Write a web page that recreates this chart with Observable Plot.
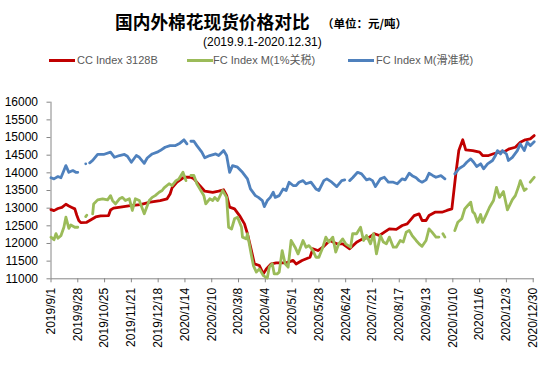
<!DOCTYPE html>
<html><head><meta charset="utf-8">
<script src="https://cdn.jsdelivr.net/npm/d3@7"></script>
<script src="https://cdn.jsdelivr.net/npm/@observablehq/plot@0.6"></script>
<style>
html,body{margin:0;padding:0;background:#fff;}
#wrap{position:relative;width:554px;height:365px;overflow:hidden;font-family:"Liberation Sans","Noto Sans CJK SC",sans-serif;}
.t{position:absolute;white-space:nowrap;}
.lg{position:absolute;height:3px;width:26px;}
#chart{position:absolute;left:0;top:0;}
</style></head><body>
<div id="wrap">
<div id="chart"></div>
<div class="t" style="left:115px;top:12px;font-family:'Noto Sans CJK SC';font-weight:bold;font-size:17.7px;line-height:18px;color:#000">国内外棉花现货价格对比</div>
<div class="t" style="left:322px;top:17px;font-family:'Noto Sans CJK SC';font-weight:bold;font-size:11.5px;line-height:12px;color:#000">（单位：元/吨）</div>
<div class="t" style="left:203px;top:36px;font-size:12px;line-height:12px;color:#000">(2019.9.1-2020.12.31)</div>
<div class="lg" style="left:49px;top:58.5px;background:#C00000"></div>
<div class="t" style="left:77px;top:54px;font-size:11px;line-height:12px;color:#595959">CC Index 3128B</div>
<div class="lg" style="left:187px;top:58.5px;background:#9BBB59"></div>
<div class="t" style="left:213px;top:54px;font-size:11px;line-height:12px;color:#595959">FC Index M(1%关税)</div>
<div class="lg" style="left:348px;top:58.5px;background:#4F81BD"></div>
<div class="t" style="left:376px;top:54px;font-size:11px;line-height:12px;color:#595959">FC Index M(滑准税)</div>
</div>
<script>
const seriesNames = ["CC Index 3128B", "FC Index M(1%关税)", "FC Index M(滑准税)"];

const tickLabels = ["2019/9/1","2019/9/28","2019/10/25","2019/11/21","2019/12/18","2020/1/14","2020/2/10","2020/3/8","2020/4/4","2020/5/1","2020/5/28","2020/6/24","2020/7/21","2020/8/17","2020/9/13","2020/10/10","2020/11/6","2020/12/3","2020/12/30"];
const yTicks = [11000,11500,12000,12500,13000,13500,14000,14500,15000,15500,16000];

const ccDates = ["2019-09-01","2019-09-04","2019-09-08","2019-09-12","2019-09-16","2019-09-19","2019-09-22","2019-09-25","2019-09-27","2019-09-29","2019-10-01","2019-10-07","2019-10-13","2019-10-16","2019-10-21","2019-10-29","2019-10-31","2019-11-03","2019-11-10","2019-11-20","2019-11-30","2019-12-10","2019-12-20","2019-12-27","2019-12-30","2020-01-01","2020-01-06","2020-01-13","2020-01-20","2020-01-23","2020-01-29","2020-02-03","2020-02-11","2020-02-17","2020-02-22","2020-02-25","2020-02-28","2020-03-04","2020-03-09","2020-03-14","2020-03-17","2020-03-21","2020-03-24","2020-03-29","2020-04-02","2020-04-05","2020-04-10","2020-04-15","2020-04-25","2020-05-02","2020-05-05","2020-05-11","2020-05-19","2020-05-22","2020-05-27","2020-06-01","2020-06-08","2020-06-15","2020-06-21","2020-06-28","2020-07-05","2020-07-11","2020-07-18","2020-07-23","2020-07-28","2020-08-02","2020-08-07","2020-08-14","2020-08-20","2020-08-25","2020-09-01","2020-09-06","2020-09-09","2020-09-13","2020-09-16","2020-09-22","2020-09-29","2020-10-04","2020-10-09","2020-10-13","2020-10-16","2020-10-20","2020-10-23","2020-10-30","2020-11-06","2020-11-09","2020-11-15","2020-11-20","2020-11-26","2020-12-01","2020-12-06","2020-12-12","2020-12-17","2020-12-22","2020-12-27","2020-12-31"];
const ccValues = [12960,12930,12990,13020,13110,13060,13020,12980,12800,12650,12590,12600,12700,12750,12780,12790,12950,13000,13030,13070,13100,13170,13215,13265,13400,13575,13735,13875,13875,13830,13640,13480,13450,13480,13520,13360,13030,12980,12790,12555,12275,11800,11425,11375,11140,11280,11425,11450,11450,11520,11420,11520,11610,11850,11800,11895,12085,11990,11990,11850,12035,12130,12180,12275,12225,12320,12415,12400,12510,12555,12790,12840,12650,12650,12790,12885,12885,12935,12980,13970,14630,14935,14650,14630,14585,14490,14490,14540,14585,14600,14680,14725,14865,14935,14960,15055];

const fc1Dates = ["2019-09-01","2019-09-04","2019-09-06","2019-09-08","2019-09-11","2019-09-14","2019-09-16","2019-09-19","2019-09-21","2019-09-25","2019-09-28","2019-10-02","2019-10-06","2019-10-07","2019-10-09","2019-10-13","2019-10-14","2019-10-18","2019-10-23","2019-10-28","2019-10-31","2019-11-02","2019-11-05","2019-11-09","2019-11-12","2019-11-15","2019-11-19","2019-11-22","2019-11-25","2019-11-29","2019-12-04","2019-12-09","2019-12-12","2019-12-15","2019-12-19","2019-12-22","2019-12-24","2019-12-29","2020-01-01","2020-01-05","2020-01-08","2020-01-12","2020-01-15","2020-01-17","2020-01-20","2020-01-23","2020-01-26","2020-01-29","2020-02-02","2020-02-04","2020-02-08","2020-02-11","2020-02-13","2020-02-16","2020-02-21","2020-02-25","2020-02-27","2020-03-01","2020-03-04","2020-03-07","2020-03-11","2020-03-12","2020-03-16","2020-03-17","2020-03-21","2020-03-23","2020-03-26","2020-03-29","2020-04-02","2020-04-06","2020-04-08","2020-04-11","2020-04-13","2020-04-16","2020-04-18","2020-04-21","2020-04-24","2020-04-27","2020-04-30","2020-05-04","2020-05-07","2020-05-12","2020-05-15","2020-05-18","2020-05-22","2020-05-25","2020-05-28","2020-06-01","2020-06-04","2020-06-07","2020-06-11","2020-06-14","2020-06-17","2020-06-21","2020-06-24","2020-06-29","2020-07-01","2020-07-05","2020-07-09","2020-07-12","2020-07-15","2020-07-19","2020-07-22","2020-07-25","2020-07-29","2020-08-01","2020-08-04","2020-08-07","2020-08-11","2020-08-14","2020-08-18","2020-08-21","2020-08-24","2020-08-27","2020-08-30","2020-09-03","2020-09-06","2020-09-09","2020-09-13","2020-09-16","2020-09-19","2020-09-23","2020-09-26","2020-09-28","2020-09-30","2020-10-02","2020-10-07","2020-10-12","2020-10-15","2020-10-19","2020-10-22","2020-10-25","2020-10-28","2020-10-30","2020-11-01","2020-11-04","2020-11-07","2020-11-09","2020-11-13","2020-11-16","2020-11-20","2020-11-23","2020-11-26","2020-11-30","2020-12-04","2020-12-09","2020-12-12","2020-12-15","2020-12-17","2020-12-21","2020-12-23","2020-12-25","2020-12-27","2020-12-31"];
const fc1Values = [12180,12105,12280,12150,12220,12460,12745,12430,12525,12460,12460,null,12760,12800,null,12840,13120,13235,13265,13235,13355,13215,13120,13265,13305,13215,13265,12935,13265,13215,12840,13215,13305,13355,13450,13500,13575,13690,13640,13780,13830,14015,13780,null,13925,13925,13690,13545,13360,13120,13265,13215,13305,13215,13500,13305,12460,12410,12700,12745,12460,12180,12130,12275,11660,11375,11190,11280,11090,11020,11330,11425,11140,11140,11190,11800,11425,11330,12085,11895,11705,12085,11895,11940,11800,11610,11610,11895,12180,12040,12180,11755,11990,12130,11990,11895,12275,12275,12460,12085,12225,11990,12275,11705,12225,12040,11990,12180,11895,11895,12085,12040,12320,12370,12225,12085,11990,11920,12085,12415,12320,12180,12180,null,12275,12180,null,12365,12600,12700,12980,13075,13170,12900,12840,12600,12820,12600,12840,13025,13215,13590,13305,13470,12950,13240,13355,13590,13780,13500,13545,null,13735,13875];

const fcsDates = ["2019-09-01","2019-09-04","2019-09-08","2019-09-11","2019-09-14","2019-09-16","2019-09-19","2019-09-23","2019-09-26","2019-09-28","2019-10-01","2019-10-06","2019-10-07","2019-10-10","2019-10-13","2019-10-18","2019-10-24","2019-10-31","2019-11-04","2019-11-09","2019-11-14","2019-11-17","2019-11-21","2019-11-26","2019-11-29","2019-12-04","2019-12-07","2019-12-12","2019-12-17","2019-12-20","2019-12-25","2019-12-30","2020-01-04","2020-01-09","2020-01-13","2020-01-16","2020-01-18","2020-01-20","2020-01-23","2020-01-26","2020-01-31","2020-02-03","2020-02-08","2020-02-14","2020-02-17","2020-02-22","2020-02-25","2020-02-28","2020-03-02","2020-03-07","2020-03-12","2020-03-17","2020-03-20","2020-03-25","2020-03-28","2020-04-01","2020-04-03","2020-04-06","2020-04-09","2020-04-12","2020-04-14","2020-04-18","2020-04-22","2020-04-25","2020-04-28","2020-05-02","2020-05-05","2020-05-08","2020-05-12","2020-05-15","2020-05-20","2020-05-25","2020-05-28","2020-06-02","2020-06-05","2020-06-10","2020-06-15","2020-06-20","2020-06-23","2020-06-25","2020-06-28","2020-07-01","2020-07-06","2020-07-10","2020-07-15","2020-07-18","2020-07-21","2020-07-24","2020-07-29","2020-08-02","2020-08-06","2020-08-11","2020-08-15","2020-08-20","2020-08-23","2020-08-27","2020-08-30","2020-09-03","2020-09-06","2020-09-09","2020-09-13","2020-09-16","2020-09-20","2020-09-23","2020-09-28","2020-10-02","2020-10-07","2020-10-12","2020-10-16","2020-10-21","2020-10-24","2020-10-28","2020-10-31","2020-11-03","2020-11-07","2020-11-10","2020-11-14","2020-11-19","2020-11-22","2020-11-24","2020-11-27","2020-11-29","2020-12-03","2020-12-05","2020-12-09","2020-12-14","2020-12-17","2020-12-21","2020-12-24","2020-12-27","2020-12-31"];
const fcsValues = [13860,13830,13895,13860,14065,14205,14015,14065,14015,14015,null,14255,null,14285,14350,14520,14520,14585,14440,14490,14520,14470,14300,14490,14440,14270,14420,14535,14585,14630,14725,14770,14770,14840,14935,14820,null,14895,14895,14770,14585,14425,14490,14535,14490,14630,14490,14015,14205,14160,14015,13830,13545,13355,13305,13215,13045,13215,13305,13450,13305,13355,13545,13500,13735,13640,13640,13735,13780,13690,13735,13545,13500,13780,13830,13735,13610,13780,13800,null,13780,13860,14015,13970,13800,13830,13780,13610,13830,13875,13735,13735,13690,13830,13800,13990,13920,13860,13780,13735,13800,13990,13920,13875,13920,13830,null,13970,14115,14205,14300,14395,14300,14180,14255,14115,14255,14350,14490,14630,14535,14630,14535,14350,14440,14630,14820,14630,14865,14770,14880];

const colors = ["#C00000", "#9BBB59", "#4F81BD"];

const toRows = (dates, vals) => dates.map((d, i) => ({date: new Date(d + "T00:00:00Z"), value: vals[i]}));
const cc = toRows(ccDates, ccValues);
const fc1 = toRows(fc1Dates, fc1Values);
const fcs = toRows(fcsDates, fcsValues);

const parseTick = d3.utcParse("%Y/%m/%d");
const tickDates = tickLabels.map(parseTick);
const fmt = d3.utcFormat("%Y/%-m/%-d");
const x0 = new Date("2019-09-01T00:00:00Z");
const x1 = new Date("2020-12-31T00:00:00Z");

const chart = Plot.plot({
  width: 554,
  height: 365,
  marginTop: 101.7,
  marginBottom: 86.7,
  marginLeft: 50.5,
  marginRight: 20.3,
  style: {fontFamily: "'Liberation Sans', sans-serif", fontSize: "12px", background: "transparent", color: "#000"},
  x: {type: "utc", domain: [x0, x1]},
  y: {domain: [11000, 16000]},
  marks: [
    Plot.axisY({ticks: yTicks, tickFormat: d3.format("d"), tickSize: 4, tickPadding: 9, stroke: "#868686", fill: "#000", fontSize: 12, label: null}),
    Plot.axisX({ticks: tickDates, tickFormat: fmt, tickRotate: -90, tickSize: 4, tickPadding: 5, stroke: "#868686", fill: "#000", fontSize: 12, label: null}),
    Plot.ruleX([x0], {stroke: "#868686"}),
    Plot.ruleY([11000], {stroke: "#868686"}),
    Plot.line(cc, {x: "date", y: "value", stroke: colors[0], strokeWidth: 2.8, strokeLinejoin: "round", strokeLinecap: "round"}),
    Plot.line(fc1, {x: "date", y: "value", stroke: colors[1], strokeWidth: 2.8, strokeLinejoin: "round", strokeLinecap: "round"}),
    Plot.line(fcs, {x: "date", y: "value", stroke: colors[2], strokeWidth: 2.8, strokeLinejoin: "round", strokeLinecap: "round"})
  ]
});
document.getElementById("chart").appendChild(chart);
</script>
</body></html>
